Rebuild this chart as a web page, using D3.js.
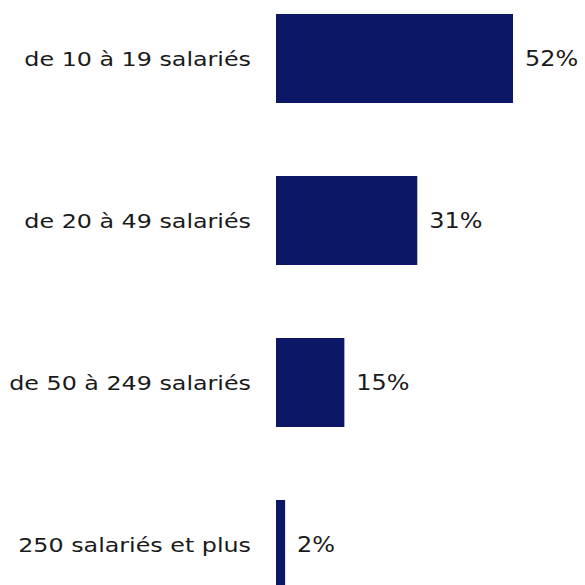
<!DOCTYPE html>
<html><head><meta charset="utf-8">
<script src="https://cdn.jsdelivr.net/npm/d3@7"></script>
<style>html,body{margin:0;padding:0;background:#fff;overflow:hidden}</style>
</head><body>
<script>
const categories = ["de 10 à 19 salariés","de 20 à 49 salariés","de 50 à 249 salariés","250 salariés et plus"];
const values = [52, 31, 15, 2];
const valueLabels = ["52%","31%","15%","2%"];

const W = 585, H = 585;
const svg = d3.select("body").append("svg").attr("width", W).attr("height", H);
const x = d3.scaleLinear().domain([0, 52]).range([276, 513]);
const y = d3.scaleBand().domain(categories).range([14, 589]).paddingInner(0.4506).paddingOuter(0);
const font = "'DejaVu Sans', sans-serif";

svg.selectAll("rect.bar").data(categories).join("rect")
  .attr("class","bar")
  .attr("x", x(0))
  .attr("y", d => y(d))
  .attr("width", (d,i) => x(values[i]) - x(0))
  .attr("height", y.bandwidth())
  .attr("fill", "#0c1766");

svg.selectAll("g.cat").data(categories).join("g")
  .attr("class","cat")
  .attr("transform", d => `translate(251,${y(d) + y.bandwidth()/2}) scale(1.19,1)`)
  .append("text")
  .attr("dy", "0.36em")
  .attr("text-anchor","end")
  .attr("font-family", font)
  .attr("font-size", 20)
  .attr("fill", "#1a1a1a")
  .text(d => d);

svg.selectAll("g.val").data(categories).join("g")
  .attr("class","val")
  .attr("transform", (d,i) => `translate(${x(values[i]) + 12},${y(d) + y.bandwidth()/2}) scale(1.14,1)`)
  .append("text")
  .attr("dy", "0.36em")
  .attr("font-family", font)
  .attr("font-size", 21)
  .attr("fill", "#1a1a1a")
  .text((d,i) => valueLabels[i]);
</script>
</body></html>
